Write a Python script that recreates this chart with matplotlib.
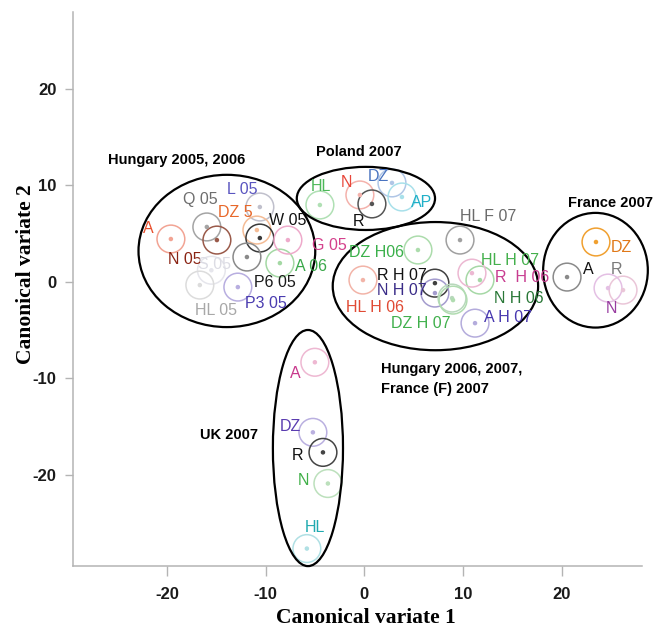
import matplotlib
matplotlib.use("Agg")
import matplotlib.pyplot as plt
from matplotlib.patches import Ellipse

plt.rcParams['font.family'] = ['Liberation Sans', 'DejaVu Sans']
plt.rcParams['axes.unicode_minus'] = False

# group labels and group centroids (canonical variates 1 and 2)
labels = ['Q 05', 'L 05', 'DZ 5', 'W 05', 'A', 'N 05', 'S 05', 'A 06', 'P6 05', 'P3 05', 'HL 05', 'G 05',
          'HL', 'N', 'DZ', 'AP', 'R',
          'HL F 07', 'DZ H06', 'HL H 07', 'R H 07', 'R  H 06', 'N H 07', 'N H 06', 'HL H 06', 'A H 07', 'DZ H 07',
          'DZ', 'A', 'R', 'N',
          'A', 'DZ', 'R', 'N', 'HL']
lab_x = [-16.67, -12.41, -13.12, -7.75, -21.94, -18.18, -15.15, -5.42, -9.07, -9.98, -15.05, -3.50,
         -4.41, -1.87, 1.37, 5.83, -0.56,
         12.51, 1.27, 14.74, 3.80, 15.96, 3.80, 15.65, 1.06, 14.54, 5.72,
         25.99, 22.64, 25.48, 24.97,
         -7.04, -7.55, -6.74, -6.13, -5.02]
lab_y = [8.58, 9.53, 7.14, 6.31, 5.48, 2.36, 1.84, 1.63, -0.03, -2.21, -2.94, 3.81,
         9.84, 10.26, 10.88, 8.18, 6.21,
         6.73, 3.09, 2.26, 0.65, 0.49, -0.9, -1.69, -2.63, -3.67, -4.29,
         3.61, 1.32, 1.32, -2.73,
         -9.49, -15.0, -18.02, -20.61, -25.5]
cen_x = [-15.96, -10.59, -10.89, -10.59, -19.60, -14.94, -15.5, -8.56, -11.90, -12.82, -16.67, -7.75,
         -4.51, -0.46, 2.79, 3.80, 0.76,
         9.68, 5.42, 11.70, 7.14, 10.89, 7.14, 8.87, -0.15, 11.20, 8.97,
         23.45, 20.52, 26.19, 24.67,
         -5.02, -5.22, -4.20, -3.70, -5.83]
cen_y = [5.69, 7.76, 5.37, 4.54, 4.44, 4.33, 1.2, 1.94, 2.57, -0.55, -0.34, 4.33,
         7.97, 9.01, 10.26, 8.80, 8.08,
         4.33, 3.30, 0.18, -0.14, 0.90, -1.17, -1.69, 0.18, -4.29, -1.90,
         4.13, 0.49, -0.86, -0.65,
         -8.35, -15.62, -17.70, -20.93, -27.68]
lab_colors = ['#6e6e6e', '#5a55c0', '#e8682a', '#111111', '#e8502e', '#8a2414', '#dcdce4', '#3aa84a',
              '#1a1a1a', '#4a3cb0', '#a8a8a8', '#d4408c',
              '#4cb858', '#e8463a', '#4a74c0', '#20b0c8', '#111111',
              '#6a6a6a', '#3ab04a', '#44b04c', '#111111', '#c83c90', '#3a2c88', '#2a7838', '#e04a34',
              '#4838b0', '#40b04c',
              '#e07818', '#111111', '#7a7a7a', '#983ca0',
              '#c8388c', '#5a3cb0', '#111111', '#40b048', '#20aab0']
circ_colors = ['#a4a4a4', '#c0c0cc', '#f4bc96', '#3a3a3a', '#f2a494', '#9a5a4a', '#e6e6ec', '#a4d8a4',
               '#8a8a8a', '#b8aee0', '#dcdcdc', '#eeaacb',
               '#b0e0b4', '#f4b2ac', '#b0c6e6', '#a8e0ea', '#555555',
               '#a0a0a0', '#acdcac', '#a6d8a6', '#404040', '#ecb8d2', '#a49cce', '#b8d8bc', '#f2b4a8',
               '#b4acdc', '#b0dcb0',
               '#f0a030', '#8a8a8a', '#eac6d8', '#e4c0e4',
               '#eeb8d2', '#bab0e0', '#444444', '#bce0bc', '#b0e0e4']

# clusters drawn as ellipses
clu_x = [-13.93, 0.15, 7.19, 23.4, -5.72]
clu_y = [3.2, 8.65, -0.45, 1.2, -17.25]
clu_w = [17.9, 14.0, 20.8, 10.6, 7.1]
clu_h = [15.8, 6.55, 13.3, 11.9, 24.5]

titles = ['Hungary 2005, 2006', 'Poland 2007', 'Hungary 2006, 2007,\nFrance (F) 2007', 'France 2007', 'UK 2007']
title_x = [-25.99, -4.9, 1.67, 20.6, -16.67]
title_y = [12.65, 13.48, -10.1, 8.18, -15.94]

fig = plt.figure(figsize=(6.53, 6.29), dpi=100)
ax = fig.add_axes([0.112, 0.100, 0.871, 0.881])

ax.scatter(cen_x, cen_y, s=400, facecolors='none', edgecolors=circ_colors, linewidths=1.1, zorder=2)
ax.scatter(cen_x, cen_y, s=5, color=circ_colors, zorder=2)

for i in range(len(labels)):
    ax.text(lab_x[i], lab_y[i], labels[i], color=lab_colors[i], fontsize=11.5,
            ha='center', va='center', zorder=4)

for i in range(len(clu_x)):
    ax.add_patch(Ellipse((clu_x[i], clu_y[i]), clu_w[i], clu_h[i], fill=False,
                         edgecolor='black', linewidth=1.6, zorder=3, clip_on=False))

for i in range(len(titles)):
    ax.text(title_x[i], title_y[i], titles[i], fontsize=10.5, fontweight='bold',
            ha='left', va='center', linespacing=1.55, zorder=4)

ax.set_xlim(-29.5, 28.1)
ax.set_ylim(-29.5, 28.0)
ax.set_xticks([-20, -10, 0, 10, 20])
ax.set_yticks([-20, -10, 0, 10, 20])

for s in ['top', 'right']:
    ax.spines[s].set_visible(False)
for s in ['left', 'bottom']:
    ax.spines[s].set_color('#b4b4b4')
    ax.spines[s].set_linewidth(1.1)
ax.tick_params(axis='x', direction='out', length=7, width=1, color='#b4b4b4', pad=8,
               labelsize=12, labelcolor='#1a1a1a')
ax.tick_params(axis='y', direction='out', length=6, width=1, color='#b4b4b4', pad=6,
               labelsize=12, labelcolor='#1a1a1a')
for t in ax.get_xticklabels() + ax.get_yticklabels():
    t.set_fontweight('bold')

ax.set_xlabel('Canonical variate 1', family='Liberation Serif', fontweight='bold', fontsize=15.5)
ax.set_ylabel('Canonical variate 2', family='Liberation Serif', fontweight='bold', fontsize=15.5)
ax.xaxis.set_label_coords(0.515, -0.076)
ax.yaxis.set_label_coords(-0.066, 0.526)

fig.savefig('out.png', dpi=100)
